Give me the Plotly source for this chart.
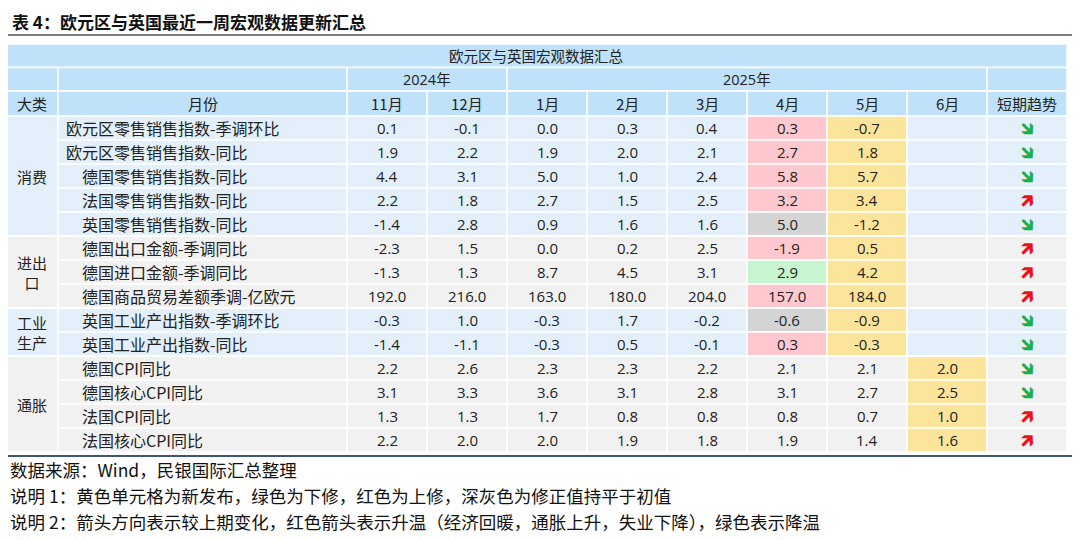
import plotly.graph_objects as go

title = "表 4：欧元区与英国最近一周宏观数据更新汇总"
table_title = "欧元区与英国宏观数据汇总"
years = ["2024年", "2025年"]
months = ["11月", "12月", "1月", "2月", "3月", "4月", "5月", "6月"]
groups = ["消费", "进出\n口", "工业\n生产", "通胀"]
group_sizes = [5, 3, 2, 4]
indicators = ["欧元区零售销售指数-季调环比", "欧元区零售销售指数-同比", "德国零售销售指数-同比",
              "法国零售销售指数-同比", "英国零售销售指数-同比", "德国出口金额-季调同比",
              "德国进口金额-季调同比", "德国商品贸易差额季调-亿欧元", "英国工业产出指数-季调环比",
              "英国工业产出指数-同比", "德国CPI同比", "德国核心CPI同比", "法国CPI同比", "法国核心CPI同比"]
values = [
    ["0.1", "-0.1", "0.0", "0.3", "0.4", "0.3", "-0.7", ""],
    ["1.9", "2.2", "1.9", "2.0", "2.1", "2.7", "1.8", ""],
    ["4.4", "3.1", "5.0", "1.0", "2.4", "5.8", "5.7", ""],
    ["2.2", "1.8", "2.7", "1.5", "2.5", "3.2", "3.4", ""],
    ["-1.4", "2.8", "0.9", "1.6", "1.6", "5.0", "-1.2", ""],
    ["-2.3", "1.5", "0.0", "0.2", "2.5", "-1.9", "0.5", ""],
    ["-1.3", "1.3", "8.7", "4.5", "3.1", "2.9", "4.2", ""],
    ["192.0", "216.0", "163.0", "180.0", "204.0", "157.0", "184.0", ""],
    ["-0.3", "1.0", "-0.3", "1.7", "-0.2", "-0.6", "-0.9", ""],
    ["-1.4", "-1.1", "-0.3", "0.5", "-0.1", "0.3", "-0.3", ""],
    ["2.2", "2.6", "2.3", "2.3", "2.2", "2.1", "2.1", "2.0"],
    ["3.1", "3.3", "3.6", "3.1", "2.8", "3.1", "2.7", "2.5"],
    ["1.3", "1.3", "1.7", "0.8", "0.8", "0.8", "0.7", "1.0"],
    ["2.2", "2.0", "2.0", "1.9", "1.8", "1.9", "1.4", "1.6"],
]
# cell status: P=upward revision, Y=new, G=downward revision, D=revised value equal
status = [
    "     PY ", "     PY ", "     PY ", "     PY ", "     DY ",
    "     PY ", "     GY ", "     PY ", "     DY ", "     PY ",
    "       Y", "       Y", "       Y", "       Y",
]
trend = ["down", "down", "down", "up", "down", "up", "up", "up", "down", "down", "down", "down", "up", "up"]
notes = ["数据来源：Wind，民银国际汇总整理",
         "说明 1：黄色单元格为新发布，绿色为下修，红色为上修，深灰色为修正值持平于初值",
         "说明 2：箭头方向表示较上期变化，红色箭头表示升温（经济回暖，通胀上升，失业下降），绿色表示降温"]

status_colors = {"P": "#ffc7ce", "Y": "#fde49b", "G": "#c6f5d0", "D": "#d4d4d4"}
band_colors = ["#e3f0fb", "#f1f1f1", "#e3f0fb", "#f1f1f1"]
HDR = "#bfe1fa"
FONT = "Noto Sans CJK SC"

xe = [5, 58, 347, 427, 507, 587, 667, 747, 827, 907, 987, 1067]
y0 = 44
ys = [y0, y0 + 23.5, y0 + 47, y0 + 72]
row_h = 24.0
data_top = ys[3]

shapes, ann = [], []

def rect(x0, x1, ya, yb, color):
    shapes.append(dict(type="rect", xref="x", yref="y", x0=x0, x1=x1, y0=ya, y1=yb,
                       fillcolor=color, line=dict(color="white", width=1.5), layer="below"))

def txt(x, y, s, size=14.5, color="#222", xanchor="center", bold=False, family=FONT):
    ann.append(dict(x=x, y=y, xref="x", yref="y", text=("<b>%s</b>" % s) if bold else s,
                    showarrow=False, xanchor=xanchor, yanchor="middle",
                    font=dict(size=size, color=color, family=family)))

txt(10, 21, title, size=17, color="#111", xanchor="left", bold=True)
shapes.append(dict(type="line", xref="x", yref="y", x0=2, x1=1075, y0=35, y1=35,
                   line=dict(color="#555", width=1.5)))

rect(xe[0], xe[-1], ys[0], ys[1], HDR)
txt((xe[0] + xe[-1]) / 2, (ys[0] + ys[1]) / 2, table_title)
rect(xe[0], xe[1], ys[1], ys[2], HDR)
rect(xe[1], xe[2], ys[1], ys[2], HDR)
rect(xe[2], xe[4], ys[1], ys[2], HDR)
txt((xe[2] + xe[4]) / 2, (ys[1] + ys[2]) / 2, years[0], family="Open Sans, " + FONT)
rect(xe[4], xe[10], ys[1], ys[2], HDR)
txt((xe[4] + xe[10]) / 2, (ys[1] + ys[2]) / 2, years[1], family="Open Sans, " + FONT)
rect(xe[10], xe[11], ys[1], ys[2], HDR)
hdr3 = ["大类", "月份"] + months + ["短期趋势"]
for i, h in enumerate(hdr3):
    rect(xe[i], xe[i + 1], ys[2], ys[3], HDR)
    txt((xe[i] + xe[i + 1]) / 2, (ys[2] + ys[3]) / 2, h, size=15)

r = 0
for g, (gname, n) in enumerate(zip(groups, group_sizes)):
    band = band_colors[g]
    gy0 = data_top + r * row_h
    gy1 = gy0 + n * row_h
    rect(xe[0], xe[1], gy0, gy1, band)
    txt((xe[0] + xe[1]) / 2, (gy0 + gy1) / 2, gname.replace("\n", "<br>"), size=15)
    for k in range(n):
        ry0 = data_top + r * row_h
        ry1 = ry0 + row_h
        yc = (ry0 + ry1) / 2
        rect(xe[1], xe[2], ry0, ry1, band)
        txt(xe[1] + (6 if r < 2 else 22), yc, indicators[r], xanchor="left", size=16)
        for c in range(len(months)):
            s = status[r][c]
            rect(xe[2 + c], xe[3 + c], ry0, ry1, status_colors.get(s, band))
            if values[r][c]:
                txt((xe[2 + c] + xe[3 + c]) / 2, yc, values[r][c], size=15, family="Open Sans, " + FONT)
        rect(xe[10], xe[11], ry0, ry1, band)
        up = trend[r] == "up"
        txt((xe[10] + xe[11]) / 2, yc, "🡵" if up else "🡶", size=19,
            color="#ee1111" if up else "#1fae4a", bold=True, family="DejaVu Sans")
        r += 1
    shapes.append(dict(type="line", xref="x", yref="y", x0=xe[0], x1=xe[-1], y0=gy1, y1=gy1,
                       line=dict(color="white", width=2)))

bottom = data_top + r * row_h
shapes.append(dict(type="line", xref="x", yref="y", x0=2, x1=1075, y0=bottom + 4, y1=bottom + 4,
                   line=dict(color="#3f5670", width=2)))
for i, nt in enumerate(notes):
    txt(8, 469 + i * 26, nt, size=17.5, color="#111", xanchor="left")

fig = go.Figure()
fig.add_trace(go.Scatter(x=[8, 1088], y=[8, 548], mode="markers", marker=dict(opacity=0),
                         hoverinfo="skip", showlegend=False))
fig.update_layout(width=1080, height=540, margin=dict(l=0, r=0, t=0, b=0),
                  plot_bgcolor="white", paper_bgcolor="white", shapes=shapes, annotations=ann,
                  xaxis=dict(range=[8, 1088], visible=False, fixedrange=True),
                  yaxis=dict(range=[548, 8], visible=False, fixedrange=True))
fig.write_html("out.html")
